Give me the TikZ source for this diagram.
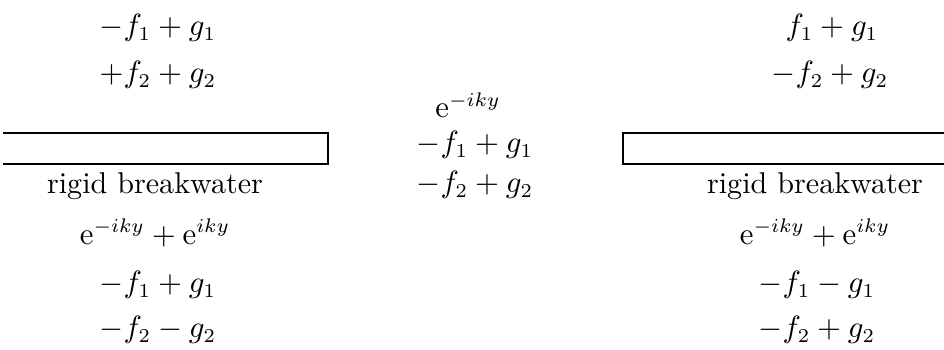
\documentclass[tikz,border=0pt]{standalone}
\usepackage{amsmath}
\usepackage{amssymb}
\begin{document}
\begin{tikzpicture}[inner sep=0pt,font=\fontsize{10.7}{13}\selectfont]
\def\u{0.125mm}
\useasboundingbox (0,0) rectangle (944*\u, -349*\u);
% left side
\node (l1) at (158*\u, -28*\u) {$-f_1+g_1$};
\node (l2) at (158*\u, -75*\u) {$+f_2+g_2$};
\node (lb) at (155*\u, -186*\u) {rigid breakwater};
\node (le) at (155*\u, -233*\u) {$\mathrm{e}^{-iky}+\mathrm{e}^{iky}$};
\node (l3) at (158*\u, -285*\u) {$-f_1+g_1$};
\node (l4) at (158*\u, -330*\u) {$-f_2-g_2$};
% gap
\node (m0) at (468*\u, -105*\u) {$\mathrm{e}^{-iky}$};
\node (m1) at (475*\u, -145*\u) {$-f_1+g_1$};
\node (m2) at (475*\u, -185*\u) {$-f_2+g_2$};
% right side
\node (r1) at (832*\u, -28*\u) {$f_1+g_1$};
\node (r2) at (830*\u, -75*\u) {$-f_2+g_2$};
\node (rb) at (815*\u, -186*\u) {rigid breakwater};
\node (re) at (815*\u, -233*\u) {$\mathrm{e}^{-iky}+\mathrm{e}^{iky}$};
\node (r3) at (817*\u, -285*\u) {$-f_1-g_1$};
\node (r4) at (817*\u, -330*\u) {$-f_2+g_2$};

\draw[line width=0.7pt] (3*\u, -133*\u) -- (328*\u, -133*\u) -- (328*\u, -164*\u) -- (3*\u, -164*\u);
\draw[line width=0.7pt] (944*\u, -133*\u) -- (623*\u, -133*\u) -- (623*\u, -164*\u) -- (944*\u, -164*\u);
\end{tikzpicture}
\end{document}
